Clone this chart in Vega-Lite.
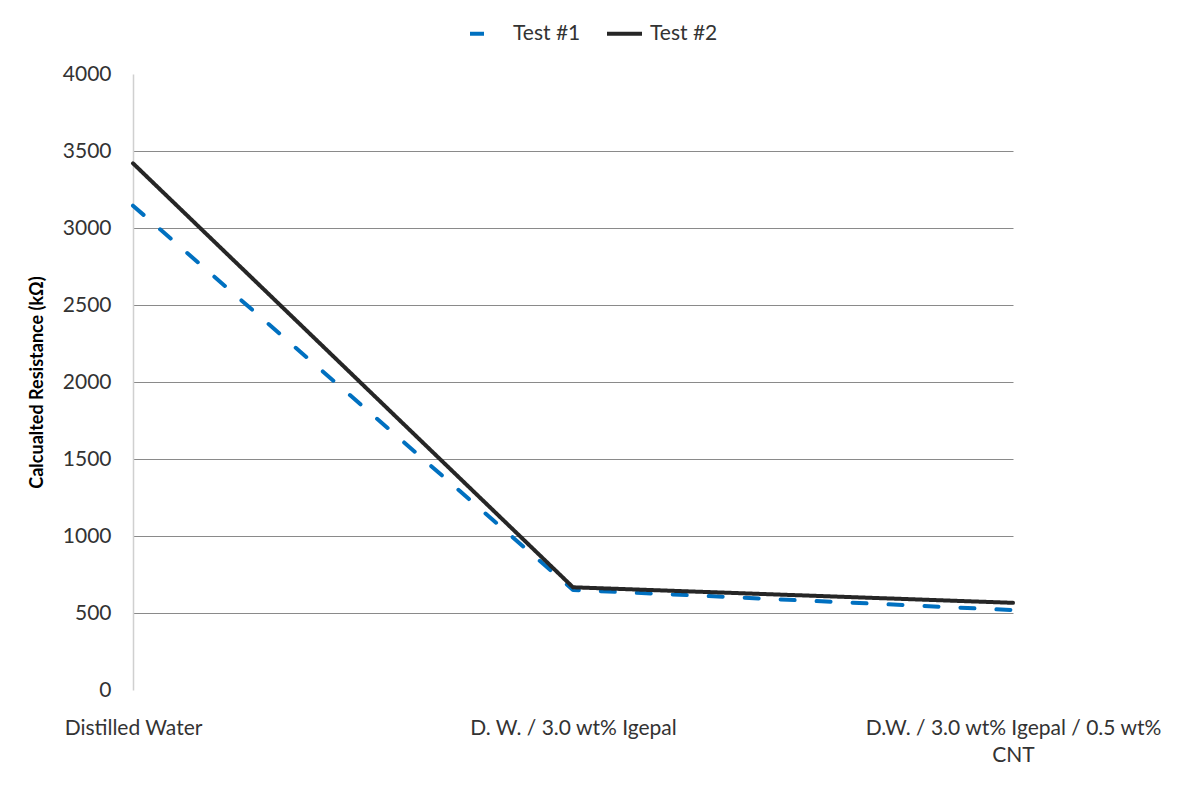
{
  "$schema": "https://vega.github.io/schema/vega-lite/v6.json",
  "width": 880,
  "height": 616,
  "autosize": {"type": "none"},
  "padding": {"left": 133, "top": 74, "right": 169, "bottom": 100},
  "background": "white",
  "config": {
    "font": "Lato",
    "view": {"stroke": null}
  },
  "data": {
    "values": [
      {"medium": "Distilled Water", "test": "Test #1", "resistance": 3145},
      {"medium": "D. W. / 3.0 wt% Igepal", "test": "Test #1", "resistance": 650},
      {"medium": "D.W. / 3.0 wt% Igepal / 0.5 wt% CNT", "test": "Test #1", "resistance": 519},
      {"medium": "Distilled Water", "test": "Test #2", "resistance": 3420},
      {"medium": "D. W. / 3.0 wt% Igepal", "test": "Test #2", "resistance": 667},
      {"medium": "D.W. / 3.0 wt% Igepal / 0.5 wt% CNT", "test": "Test #2", "resistance": 566}
    ]
  },
  "mark": {"type": "line", "strokeWidth": 4, "strokeCap": "round", "strokeJoin": "round"},
  "encoding": {
    "x": {
      "field": "medium",
      "type": "nominal",
      "sort": ["Distilled Water", "D. W. / 3.0 wt% Igepal", "D.W. / 3.0 wt% Igepal / 0.5 wt% CNT"],
      "scale": {"type": "point", "padding": 0},
      "axis": {
        "title": null,
        "domain": false,
        "ticks": false,
        "grid": false,
        "labelAngle": 0,
        "labelFontSize": 21,
        "labelColor": "#333333",
        "labelPadding": 27,
        "labelLimit": 400,
        "labelLineHeight": 27,
        "labelExpr": "datum.value == 'D.W. / 3.0 wt% Igepal / 0.5 wt% CNT' ? ['D.W. / 3.0 wt% Igepal / 0.5 wt%', 'CNT'] : datum.value"
      }
    },
    "y": {
      "field": "resistance",
      "type": "quantitative",
      "scale": {"domain": [0, 4000], "nice": false},
      "axis": {
        "title": "Calcualted Resistance (kΩ)",
        "titleFontSize": 18,
        "titleFontWeight": "bold",
        "titleColor": "#000000",
        "titlePadding": 16,
        "format": "d",
        "values": [0, 500, 1000, 1500, 2000, 2500, 3000, 3500, 4000],
        "domain": true,
        "domainColor": "#d0d0d0",
        "domainWidth": 1.5,
        "ticks": false,
        "labelFontSize": 21,
        "labelColor": "#333333",
        "labelPadding": 22,
        "grid": true,
        "gridColor": "#8a8a8a",
        "gridWidth": 1,
        "gridOpacity": {"condition": {"test": "datum.value == 0 || datum.value == 4000", "value": 0}, "value": 1}
      }
    },
    "color": {
      "field": "test",
      "type": "nominal",
      "scale": {"domain": ["Test #1", "Test #2"], "range": ["#0070C0", "#262626"]},
      "legend": {
        "title": null,
        "orient": "none",
        "direction": "horizontal",
        "legendX": 335,
        "legendY": -60,
        "symbolType": "stroke",
        "symbolStrokeWidth": 4,
        "symbolSize": 1225,
        "labelFontSize": 21,
        "labelColor": "#333333",
        "labelOffset": 6,
        "columnPadding": 18
      }
    },
    "strokeDash": {
      "field": "test",
      "type": "nominal",
      "scale": {"domain": ["Test #1", "Test #2"], "range": [[14, 22], [1, 0]]},
      "legend": {
        "title": null,
        "orient": "none",
        "direction": "horizontal",
        "legendX": 335,
        "legendY": -60,
        "symbolType": "stroke",
        "symbolStrokeWidth": 4,
        "symbolSize": 1225,
        "labelFontSize": 21,
        "labelColor": "#333333",
        "labelOffset": 6,
        "columnPadding": 18
      }
    }
  }
}
